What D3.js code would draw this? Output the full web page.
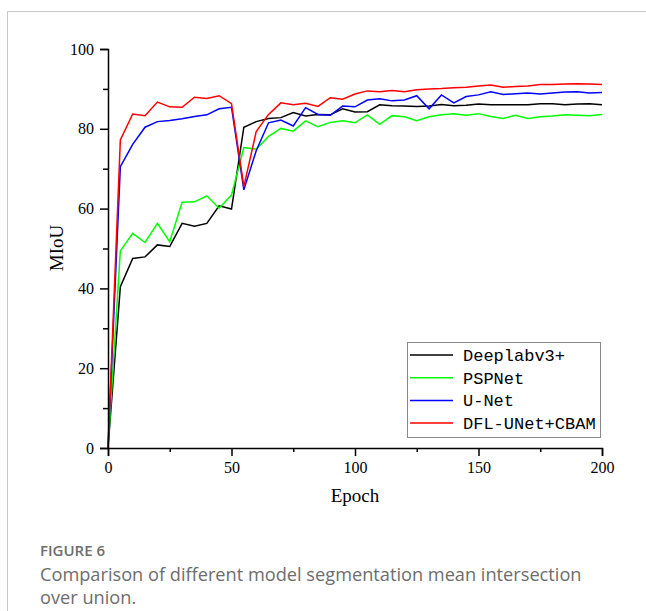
<!DOCTYPE html>
<html><head><meta charset="utf-8">
<script src="https://cdn.jsdelivr.net/npm/d3@7"></script>
<style>
html,body{margin:0;padding:0;background:#fff;}
svg{display:block;}
</style></head>
<body>
<svg id="chart" width="646" height="611"></svg>
<script>
const epochs = d3.range(0, 201, 5);
const seriesNames = ["Deeplabv3+", "PSPNet", "U-Net", "DFL-UNet+CBAM"];
const deeplab = [0,40.4,47.5,47.9,50.9,50.5,56.3,55.6,56.3,60.7,59.9,80.4,81.8,82.6,82.8,84.1,83.2,83.6,83.5,85.0,84.2,84.3,86.0,85.8,85.7,85.6,85.7,86.1,85.8,85.9,86.2,86.0,86.0,86.0,86.0,86.3,86.3,86.0,86.2,86.3,86.0];
const pspnet = [0,49.4,53.8,51.5,56.3,51.7,61.6,61.7,63.2,60.1,63.4,75.3,74.9,78.1,80.1,79.4,82.0,80.5,81.6,82.0,81.5,83.5,81.1,83.3,83.0,82.0,83.0,83.5,83.8,83.4,83.8,83.1,82.6,83.4,82.6,83.0,83.2,83.5,83.4,83.3,83.6];
const unet = [0,70.5,76.1,80.4,81.8,82.1,82.5,83.1,83.5,85.0,85.4,64.7,74.5,81.5,82.2,80.7,85.3,83.6,83.4,85.7,85.5,87.2,87.5,87.0,87.2,88.3,85.0,88.5,86.5,88.1,88.5,89.3,88.6,88.8,89.0,88.7,89.0,89.2,89.3,89.0,89.1];
const dfl = [0,77.2,83.7,83.3,86.7,85.5,85.4,87.9,87.6,88.3,86.3,65.5,79.3,83.6,86.5,86.0,86.4,85.6,87.8,87.4,88.7,89.5,89.3,89.6,89.3,89.8,90.0,90.1,90.3,90.4,90.7,91.0,90.4,90.6,90.7,91.1,91.1,91.2,91.3,91.2,91.1];
const xTicks = [0, 50, 100, 150, 200];
const yTicks = [0, 20, 40, 60, 80, 100];
const xMinor = [25, 75, 125, 175];
const yMinor = [10, 30, 50, 70, 90];
const colors = ["#000000", "#00ff00", "#0000ff", "#ff0000"];
const allSeries = [deeplab, pspnet, unet, dfl];

const svg = d3.select("#chart");
// outer frame
svg.append("path").attr("d", "M7.5,611 V11.5 H646").attr("fill", "none").attr("stroke", "#c8c8c8").attr("stroke-width", 1);

const x = d3.scaleLinear().domain([0, 200]).range([108, 602]);
const y = d3.scaleLinear().domain([0, 100]).range([448, 49]);
const serif = "'Liberation Serif', 'DejaVu Serif', serif";

// lines
const line = d3.line().x((d, i) => x(epochs[i])).y(d => y(d));
allSeries.forEach((s, k) => {
  svg.append("path").datum(s).attr("d", line).attr("fill", "none")
    .attr("stroke", colors[k]).attr("stroke-width", 1.5).attr("stroke-linejoin", "miter");
});

// axes
const xAxis = svg.append("g").attr("transform", "translate(0,448)")
  .call(d3.axisBottom(x).tickValues(xTicks).tickSize(8).tickPadding(6).tickFormat(d3.format("d")));
const xMin = svg.append("g").attr("transform", "translate(0,448)")
  .call(d3.axisBottom(x).tickValues(xMinor).tickSize(4).tickFormat(""));
xMin.select(".domain").remove();
const yAxis = svg.append("g").attr("transform", "translate(108,0)")
  .call(d3.axisLeft(y).tickValues(yTicks).tickSize(8).tickPadding(6).tickFormat(d3.format("d")));
const yMin = svg.append("g").attr("transform", "translate(108,0)")
  .call(d3.axisLeft(y).tickValues(yMinor).tickSize(5).tickFormat(""));
yMin.select(".domain").remove();
svg.selectAll(".domain, .tick line").attr("stroke", "#000").attr("stroke-width", 1.5);
svg.selectAll(".tick text").attr("font-family", serif).attr("font-size", 16).attr("fill", "#000");

// axis labels
svg.append("text").attr("x", 355).attr("y", 502).attr("text-anchor", "middle")
  .attr("font-family", serif).attr("font-size", 19).text("Epoch");
svg.append("text").attr("transform", "translate(63,248) rotate(-90)").attr("text-anchor", "middle")
  .attr("font-family", serif).attr("font-size", 19).text("MIoU");

// legend
const lg = svg.append("g");
lg.append("rect").attr("x", 407.5).attr("y", 342.5).attr("width", 193).attr("height", 95)
  .attr("fill", "#fff").attr("stroke", "#888").attr("stroke-width", 1);
seriesNames.forEach((n, k) => {
  const yy = 355 + k * 22.7;
  lg.append("line").attr("x1", 410).attr("x2", 453).attr("y1", yy).attr("y2", yy)
    .attr("stroke", colors[k]).attr("stroke-width", 1.5);
  lg.append("text").attr("x", 463).attr("y", yy + 6).attr("font-family", "'Liberation Mono', monospace")
    .attr("font-size", 17).attr("fill", "#000").text(n);
});

// caption
const sans = "'Open Sans', 'Noto Sans', sans-serif";
svg.append("text").attr("x", 40).attr("y", 556).attr("font-family", sans)
  .attr("font-size", 15).attr("font-weight", 600).attr("fill", "#6d6d6d").text("FIGURE 6");
svg.append("text").attr("x", 40).attr("y", 581).attr("font-family", sans)
  .attr("font-size", 18.2).attr("fill", "#6d6d6d").text("Comparison of different model segmentation mean intersection");
svg.append("text").attr("x", 40).attr("y", 604).attr("font-family", sans)
  .attr("font-size", 18.2).attr("fill", "#6d6d6d").text("over union.");
</script>
</body></html>
